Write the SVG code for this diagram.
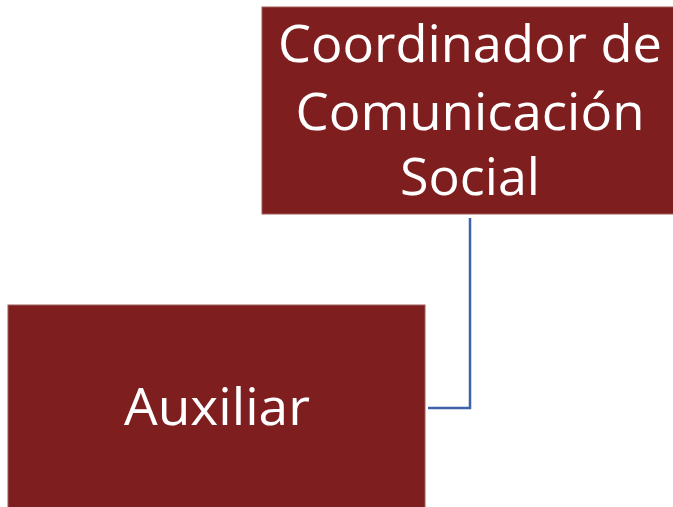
<svg xmlns="http://www.w3.org/2000/svg" width="673" height="507" viewBox="0 0 673 507">
<style>
.box{fill:#7f1e1e;stroke:#a05a5a;stroke-width:1}
.t{fill:#ffffff;font-family:"Open Sans","Liberation Sans",sans-serif;font-size:52px;text-anchor:middle}
.c{fill:none;stroke:#3f63a8;stroke-width:2.5}
</style>
<rect width="673" height="507" fill="#ffffff"/>
<g id="coordinador">
<rect class="box" x="262" y="7" width="412" height="207"/>
<text class="t" x="470" y="62" textLength="384" lengthAdjust="spacingAndGlyphs">Coordinador de</text>
<text class="t" x="470" y="130" textLength="349" lengthAdjust="spacingAndGlyphs">Comunicación</text>
<text class="t" x="470" y="195" textLength="140" lengthAdjust="spacingAndGlyphs">Social</text>
</g>
<g id="auxiliar">
<rect class="box" x="8" y="305" width="417" height="203"/>
<text class="t" x="217" y="425" textLength="186" lengthAdjust="spacingAndGlyphs">Auxiliar</text>
</g>
<g id="connectors">
<polyline class="c" points="470,218 470,408 428,408"/>
</g>
</svg>
